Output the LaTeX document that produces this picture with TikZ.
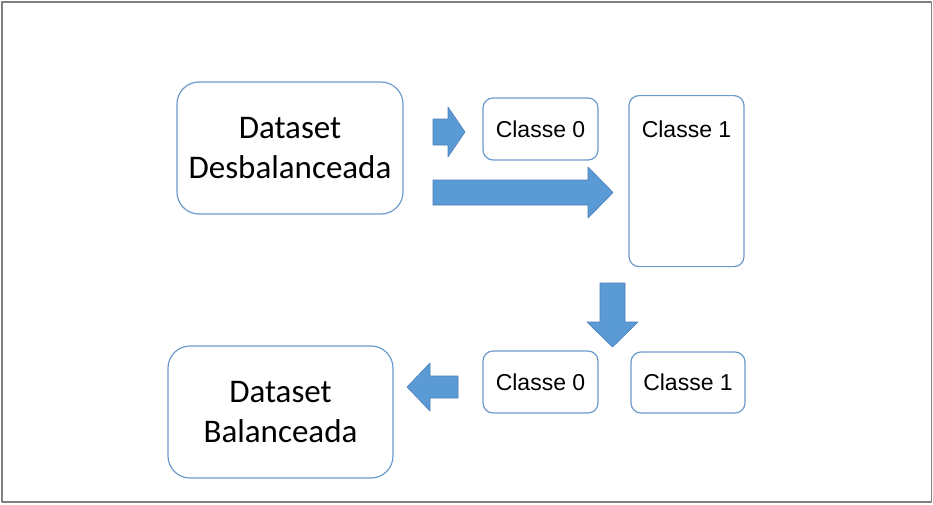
\documentclass[tikz,border=0pt]{standalone}
\usepackage{fontspec}
\newfontfamily\calibri{Carlito}
\newfontfamily\arial{Liberation Sans}
\usetikzlibrary{positioning}
\definecolor{boxline}{HTML}{6C9BCB}
\definecolor{arrowfill}{HTML}{5B9BD5}
\definecolor{arrowline}{HTML}{4A7EBB}
\definecolor{framegray}{HTML}{7F7F7F}

\begin{document}
\begin{tikzpicture}[x=1pt,y=-1pt,line join=round,
    bigbox/.style={draw=boxline,line width=1.2pt,rounded corners=22pt,minimum width=226pt,minimum height=132pt,inner sep=0pt,align=center,font=\calibri\fontsize{33}{40}\selectfont},
    smallbox/.style={draw=boxline,line width=1.2pt,rounded corners=10pt,minimum width=115pt,minimum height=62pt,inner sep=0pt,font=\arial\fontsize{23}{27}\selectfont},
    blockarrow/.style={fill=arrowfill,draw=arrowline,line width=0.6pt}]
    \useasboundingbox (0,0) rectangle (933,504);
    \draw[framegray,line width=1.5pt] (2,2) rectangle (931.5,502);
    % boxes
    \node[bigbox] (desbal) at (290,148) {Dataset\\Desbalanceada};
    \node[smallbox] (c0top) at (540.5,129) {Classe 0};
    \node[smallbox,anchor=north,minimum height=0pt,text height=42pt,text depth=129pt] (c1top) at (686.5,95) {Classe 1};
    \node[smallbox,minimum width=114pt,minimum height=61pt] (c1bot) at (688,382.5) {Classe 1};
    \node[smallbox] (c0bot) at (540.5,382) {Classe 0};
    \node[bigbox,minimum width=225pt] (bal) at (280.5,412) {Dataset\\Balanceada};
    % block arrows
    \draw[blockarrow] (433,119) -- (448,119) -- (448,107) -- (465,132) -- (448,157) -- (448,145) -- (433,145) -- cycle;
    \draw[blockarrow] (433,180) -- (588,180) -- (588,167) -- (613,192.5) -- (588,218) -- (588,205) -- (433,205) -- cycle;
    \draw[blockarrow] (600,283) -- (625,283) -- (625,322) -- (638,322) -- (612.5,347) -- (587,322) -- (600,322) -- cycle;
    \draw[blockarrow] (458,376) -- (430,376) -- (430,363) -- (407,387) -- (430,411) -- (430,398) -- (458,398) -- cycle;
\end{tikzpicture}
\end{document}
